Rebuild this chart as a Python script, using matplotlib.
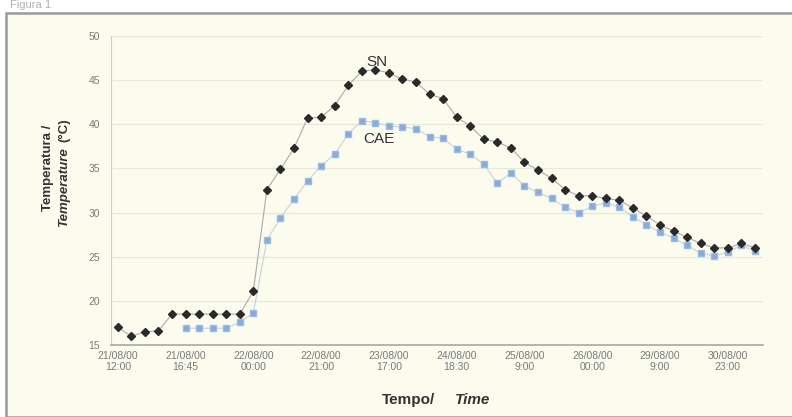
import matplotlib.pyplot as plt
from matplotlib.patches import Rectangle

# readings, one every step of the x axis
sn = [17.0, 16.0, 16.5, 16.6, 18.5, 18.5, 18.5, 18.5, 18.5, 18.5,
      21.1, 32.6, 34.9, 37.3, 40.7, 40.8, 42.1, 44.4, 46.0, 46.2,
      45.8, 45.1, 44.8, 43.4, 42.9, 40.8, 39.8, 38.3, 38.0, 37.3,
      35.7, 34.8, 33.9, 32.6, 31.9, 31.9, 31.6, 31.4, 30.5, 29.6,
      28.6, 27.9, 27.2, 26.5, 26.0, 26.0, 26.5, 26.0]
cae_start = 5
cae = [16.9, 16.9, 16.9, 16.9, 17.6, 18.6,
       26.9, 29.4, 31.5, 33.6, 35.3, 36.6, 38.9, 40.4, 40.2,
       39.8, 39.7, 39.5, 38.6, 38.4, 37.2, 36.6, 35.5, 33.3, 34.5,
       33.0, 32.3, 31.6, 30.6, 30.0, 30.7, 31.1, 30.6, 29.5, 28.6,
       27.8, 27.1, 26.3, 25.4, 25.1, 25.5, 26.3, 25.6]
tick_labels = ["21/08/00\n12:00", "21/08/00\n16:45", "22/08/00\n00:00",
               "22/08/00\n21:00", "23/08/00\n17:00", "24/08/00\n18:30",
               "25/08/00\n9:00", "26/08/00\n00:00", "29/08/00\n9:00",
               "30/08/00\n23:00"]
y_ticks = [15, 20, 25, 30, 35, 40, 45, 50]

bg = '#fbfbee'
plt.rcParams['font.family'] = ['Liberation Sans', 'DejaVu Sans']

fig = plt.figure(figsize=(7.92, 4.17), dpi=100, facecolor='white')
W, H = 792, 417

# scanned frame around the figure
fig.patches.append(Rectangle((6 / W, 0), 1, 1 - 13 / H, transform=fig.transFigure,
                             facecolor=bg, edgecolor='#9a9a9a', linewidth=1.8,
                             zorder=-5))
fig.text(0.012, 1.0, "Figura 1", color='#b0b0b0', fontsize=8, va='top')

ax = fig.add_axes([111 / W, 1 - 345 / H, (763 - 111) / W, (345 - 36) / H])
ax.set_facecolor(bg)

x_sn = list(range(len(sn)))
x_cae = list(range(cae_start, cae_start + len(cae)))

ax.plot(x_cae, cae, color='#c9d3de', linewidth=0.8, zorder=2)
ax.plot(x_cae, cae, linestyle='none', marker='s', markersize=4.5,
        color='#85abdc', markeredgecolor='#9dbae0', zorder=3)
ax.plot(x_sn, sn, color='#ababab', linewidth=0.8, zorder=4)
ax.plot(x_sn, sn, linestyle='none', marker='D', markersize=3.6,
        color='#2a2a2a', zorder=5)

ax.text(19.1, 47.0, "SN", fontsize=11, color='#333333', ha='center', va='center')
ax.text(19.25, 38.3, "CAE", fontsize=11, color='#333333', ha='center', va='center')

ax.set_xlim(-0.5, 47.6)
ax.set_ylim(15, 50)
ax.set_yticks(y_ticks)
ax.set_xticks(range(0, 50, 5))
ax.set_xticklabels(tick_labels)
ax.tick_params(axis='both', length=0, labelsize=7.5, labelcolor='#7a7a7a')
ax.tick_params(axis='x', pad=4)
ax.tick_params(axis='y', pad=8)
ax.grid(axis='y', color='#e8e8da', linewidth=0.9)
ax.set_axisbelow(True)

for side in ['top', 'right']:
    ax.spines[side].set_visible(False)
ax.spines['left'].set_color('#d0d0c8')
ax.spines['bottom'].set_color('#a8a8a8')
ax.spines['bottom'].set_linewidth(1.2)

# axis titles, bilingual with the english part in italics
fig.text(435 / W, 1 - 400 / H, "Tempo/", fontsize=11, fontweight='bold',
         color='#333333', ha='right', va='center')
fig.text(455 / W, 1 - 400 / H, "Time", fontsize=11, fontweight='bold',
         fontstyle='italic', color='#333333', ha='left', va='center')

fig.text(48 / W, 1 - 168 / H, "Temperatura /", fontsize=9.5, fontweight='bold',
         color='#333333', rotation=90, ha='center', va='center')
fig.text(64 / W, 1 - 118 / H, "(°C)", fontsize=9.5, fontweight='bold',
         color='#333333', rotation=90, ha='center', va='top')
fig.text(64 / W, 1 - 147 / H, "Temperature", fontsize=9.5, fontweight='bold',
         fontstyle='italic', color='#333333', rotation=90,
         ha='center', va='top')

fig.savefig('out.png', dpi=100, facecolor=fig.get_facecolor())
